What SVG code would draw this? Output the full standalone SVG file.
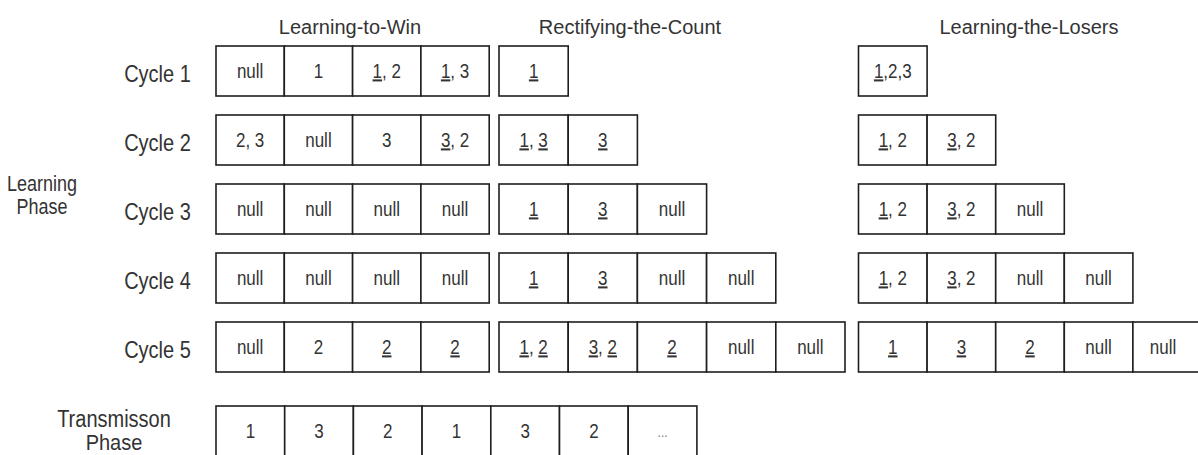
<svg xmlns="http://www.w3.org/2000/svg" width="1198" height="455" viewBox="0 0 1198 455">
<style>
rect{fill:#fff;stroke:#1e1e1e;stroke-width:1.6}
text{font-family:"Liberation Sans",Arial,sans-serif;fill:#333;text-anchor:middle}
.c{font-size:17px}
.l{font-size:20px}
.p{font-size:18px}
.t{font-size:20px}
.u{text-decoration:underline}
.d{font-size:12px;fill:#777}
</style>
<rect x="0" y="0" width="1198" height="455" style="fill:#fff;stroke:none"/>
<g id="titles">
<text class="t" x="350" y="34">Learning-to-Win</text>
<text class="t" x="630" y="34">Rectifying-the-Count</text>
<text class="t" x="1029" y="34">Learning-the-Losers</text>
</g>
<g id="labels">
<text class="l" transform="translate(157.5,82) scale(1,1.2)">Cycle 1</text>
<text class="l" transform="translate(157.5,151) scale(1,1.2)">Cycle 2</text>
<text class="l" transform="translate(157.5,220) scale(1,1.2)">Cycle 3</text>
<text class="l" transform="translate(157.5,289) scale(1,1.2)">Cycle 4</text>
<text class="l" transform="translate(157.5,358) scale(1,1.2)">Cycle 5</text>
<text class="p" transform="translate(42,191) scale(1,1.2)">Learning</text>
<text class="p" transform="translate(42,214) scale(1,1.2)">Phase</text>
<text class="l" transform="translate(114,427) scale(1,1.15)">Transmisson</text>
<text class="l" transform="translate(114,450) scale(1,1.1)">Phase</text>
</g>
<g id="connectors"/>
<!-- Learning-to-Win -->
<g id="ltw-1-1"><rect x="216" y="46" width="68.3" height="50"/><text class="c" transform="translate(250.15,78.3) scale(1,1.2)">null</text></g>
<g id="ltw-1-2"><rect x="284.3" y="46" width="68.3" height="50"/><text class="c" transform="translate(318.45,78.3) scale(1,1.2)">1</text></g>
<g id="ltw-1-3"><rect x="352.6" y="46" width="68.3" height="50"/><text class="c" transform="translate(386.75,78.3) scale(1,1.2)"><tspan class="u">1</tspan>, 2</text></g>
<g id="ltw-1-4"><rect x="420.9" y="46" width="68.3" height="50"/><text class="c" transform="translate(455.05,78.3) scale(1,1.2)"><tspan class="u">1</tspan>, 3</text></g>
<g id="ltw-2-1"><rect x="216" y="115" width="68.3" height="50"/><text class="c" transform="translate(250.15,147.3) scale(1,1.2)">2, 3</text></g>
<g id="ltw-2-2"><rect x="284.3" y="115" width="68.3" height="50"/><text class="c" transform="translate(318.45,147.3) scale(1,1.2)">null</text></g>
<g id="ltw-2-3"><rect x="352.6" y="115" width="68.3" height="50"/><text class="c" transform="translate(386.75,147.3) scale(1,1.2)">3</text></g>
<g id="ltw-2-4"><rect x="420.9" y="115" width="68.3" height="50"/><text class="c" transform="translate(455.05,147.3) scale(1,1.2)"><tspan class="u">3</tspan>, 2</text></g>
<g id="ltw-3-1"><rect x="216" y="184" width="68.3" height="50"/><text class="c" transform="translate(250.15,216.3) scale(1,1.2)">null</text></g>
<g id="ltw-3-2"><rect x="284.3" y="184" width="68.3" height="50"/><text class="c" transform="translate(318.45,216.3) scale(1,1.2)">null</text></g>
<g id="ltw-3-3"><rect x="352.6" y="184" width="68.3" height="50"/><text class="c" transform="translate(386.75,216.3) scale(1,1.2)">null</text></g>
<g id="ltw-3-4"><rect x="420.9" y="184" width="68.3" height="50"/><text class="c" transform="translate(455.05,216.3) scale(1,1.2)">null</text></g>
<g id="ltw-4-1"><rect x="216" y="253" width="68.3" height="50"/><text class="c" transform="translate(250.15,285.3) scale(1,1.2)">null</text></g>
<g id="ltw-4-2"><rect x="284.3" y="253" width="68.3" height="50"/><text class="c" transform="translate(318.45,285.3) scale(1,1.2)">null</text></g>
<g id="ltw-4-3"><rect x="352.6" y="253" width="68.3" height="50"/><text class="c" transform="translate(386.75,285.3) scale(1,1.2)">null</text></g>
<g id="ltw-4-4"><rect x="420.9" y="253" width="68.3" height="50"/><text class="c" transform="translate(455.05,285.3) scale(1,1.2)">null</text></g>
<g id="ltw-5-1"><rect x="216" y="322" width="68.3" height="50"/><text class="c" transform="translate(250.15,354.3) scale(1,1.2)">null</text></g>
<g id="ltw-5-2"><rect x="284.3" y="322" width="68.3" height="50"/><text class="c" transform="translate(318.45,354.3) scale(1,1.2)">2</text></g>
<g id="ltw-5-3"><rect x="352.6" y="322" width="68.3" height="50"/><text class="c" transform="translate(386.75,354.3) scale(1,1.2)"><tspan class="u">2</tspan></text></g>
<g id="ltw-5-4"><rect x="420.9" y="322" width="68.3" height="50"/><text class="c" transform="translate(455.05,354.3) scale(1,1.2)"><tspan class="u">2</tspan></text></g>
<!-- Rectifying-the-Count -->
<g id="rtc-1-1"><rect x="499" y="46" width="69.2" height="50"/><text class="c" transform="translate(533.6,78.3) scale(1,1.2)"><tspan class="u">1</tspan></text></g>
<g id="rtc-2-1"><rect x="499" y="115" width="69.2" height="50"/><text class="c" transform="translate(533.6,147.3) scale(1,1.2)"><tspan class="u">1</tspan>, <tspan class="u">3</tspan></text></g>
<g id="rtc-2-2"><rect x="568.2" y="115" width="69.2" height="50"/><text class="c" transform="translate(602.8,147.3) scale(1,1.2)"><tspan class="u">3</tspan></text></g>
<g id="rtc-3-1"><rect x="499" y="184" width="69.2" height="50"/><text class="c" transform="translate(533.6,216.3) scale(1,1.2)"><tspan class="u">1</tspan></text></g>
<g id="rtc-3-2"><rect x="568.2" y="184" width="69.2" height="50"/><text class="c" transform="translate(602.8,216.3) scale(1,1.2)"><tspan class="u">3</tspan></text></g>
<g id="rtc-3-3"><rect x="637.4" y="184" width="69.2" height="50"/><text class="c" transform="translate(672,216.3) scale(1,1.2)">null</text></g>
<g id="rtc-4-1"><rect x="499" y="253" width="69.2" height="50"/><text class="c" transform="translate(533.6,285.3) scale(1,1.2)"><tspan class="u">1</tspan></text></g>
<g id="rtc-4-2"><rect x="568.2" y="253" width="69.2" height="50"/><text class="c" transform="translate(602.8,285.3) scale(1,1.2)"><tspan class="u">3</tspan></text></g>
<g id="rtc-4-3"><rect x="637.4" y="253" width="69.2" height="50"/><text class="c" transform="translate(672,285.3) scale(1,1.2)">null</text></g>
<g id="rtc-4-4"><rect x="706.6" y="253" width="69.2" height="50"/><text class="c" transform="translate(741.2,285.3) scale(1,1.2)">null</text></g>
<g id="rtc-5-1"><rect x="499" y="322" width="69.2" height="50"/><text class="c" transform="translate(533.6,354.3) scale(1,1.2)"><tspan class="u">1</tspan>, <tspan class="u">2</tspan></text></g>
<g id="rtc-5-2"><rect x="568.2" y="322" width="69.2" height="50"/><text class="c" transform="translate(602.8,354.3) scale(1,1.2)"><tspan class="u">3</tspan>, <tspan class="u">2</tspan></text></g>
<g id="rtc-5-3"><rect x="637.4" y="322" width="69.2" height="50"/><text class="c" transform="translate(672,354.3) scale(1,1.2)"><tspan class="u">2</tspan></text></g>
<g id="rtc-5-4"><rect x="706.6" y="322" width="69.2" height="50"/><text class="c" transform="translate(741.2,354.3) scale(1,1.2)">null</text></g>
<g id="rtc-5-5"><rect x="775.8" y="322" width="69.2" height="50"/><text class="c" transform="translate(810.4,354.3) scale(1,1.2)">null</text></g>
<!-- Learning-the-Losers -->
<g id="ltl-1-1"><rect x="858.5" y="46" width="68.6" height="50"/><text class="c" transform="translate(892.8,78.3) scale(1,1.2)"><tspan class="u">1</tspan>,2,3</text></g>
<g id="ltl-2-1"><rect x="858.5" y="115" width="68.6" height="50"/><text class="c" transform="translate(892.8,147.3) scale(1,1.2)"><tspan class="u">1</tspan>, 2</text></g>
<g id="ltl-2-2"><rect x="927.1" y="115" width="68.6" height="50"/><text class="c" transform="translate(961.4,147.3) scale(1,1.2)"><tspan class="u">3</tspan>, 2</text></g>
<g id="ltl-3-1"><rect x="858.5" y="184" width="68.6" height="50"/><text class="c" transform="translate(892.8,216.3) scale(1,1.2)"><tspan class="u">1</tspan>, 2</text></g>
<g id="ltl-3-2"><rect x="927.1" y="184" width="68.6" height="50"/><text class="c" transform="translate(961.4,216.3) scale(1,1.2)"><tspan class="u">3</tspan>, 2</text></g>
<g id="ltl-3-3"><rect x="995.7" y="184" width="68.6" height="50"/><text class="c" transform="translate(1030,216.3) scale(1,1.2)">null</text></g>
<g id="ltl-4-1"><rect x="858.5" y="253" width="68.6" height="50"/><text class="c" transform="translate(892.8,285.3) scale(1,1.2)"><tspan class="u">1</tspan>, 2</text></g>
<g id="ltl-4-2"><rect x="927.1" y="253" width="68.6" height="50"/><text class="c" transform="translate(961.4,285.3) scale(1,1.2)"><tspan class="u">3</tspan>, 2</text></g>
<g id="ltl-4-3"><rect x="995.7" y="253" width="68.6" height="50"/><text class="c" transform="translate(1030,285.3) scale(1,1.2)">null</text></g>
<g id="ltl-4-4"><rect x="1064.3" y="253" width="68.6" height="50"/><text class="c" transform="translate(1098.6,285.3) scale(1,1.2)">null</text></g>
<g id="ltl-5-1"><rect x="858.5" y="322" width="68.6" height="50"/><text class="c" transform="translate(892.8,354.3) scale(1,1.2)"><tspan class="u">1</tspan></text></g>
<g id="ltl-5-2"><rect x="927.1" y="322" width="68.6" height="50"/><text class="c" transform="translate(961.4,354.3) scale(1,1.2)"><tspan class="u">3</tspan></text></g>
<g id="ltl-5-3"><rect x="995.7" y="322" width="68.6" height="50"/><text class="c" transform="translate(1030,354.3) scale(1,1.2)"><tspan class="u">2</tspan></text></g>
<g id="ltl-5-4"><rect x="1064.3" y="322" width="68.6" height="50"/><text class="c" transform="translate(1098.6,354.3) scale(1,1.2)">null</text></g>
<g id="ltl-5-5"><rect x="1132.9" y="322" width="68.6" height="50"/><text class="c" transform="translate(1163,354.3) scale(1,1.2)">null</text></g>
<!-- Transmission -->
<g id="tx-1"><rect x="216" y="406" width="68.7" height="50"/><text class="c" transform="translate(250.35,438.3) scale(1,1.2)">1</text></g>
<g id="tx-2"><rect x="284.7" y="406" width="68.7" height="50"/><text class="c" transform="translate(319.05,438.3) scale(1,1.2)">3</text></g>
<g id="tx-3"><rect x="353.4" y="406" width="68.7" height="50"/><text class="c" transform="translate(387.75,438.3) scale(1,1.2)">2</text></g>
<g id="tx-4"><rect x="422.1" y="406" width="68.7" height="50"/><text class="c" transform="translate(456.45,438.3) scale(1,1.2)">1</text></g>
<g id="tx-5"><rect x="490.8" y="406" width="68.7" height="50"/><text class="c" transform="translate(525.15,438.3) scale(1,1.2)">3</text></g>
<g id="tx-6"><rect x="559.5" y="406" width="68.7" height="50"/><text class="c" transform="translate(593.85,438.3) scale(1,1.2)">2</text></g>
<g id="tx-7"><rect x="628.2" y="406" width="68.7" height="50"/><text class="d" transform="translate(662.55,437) scale(1,1.2)">...</text></g>
</svg>
